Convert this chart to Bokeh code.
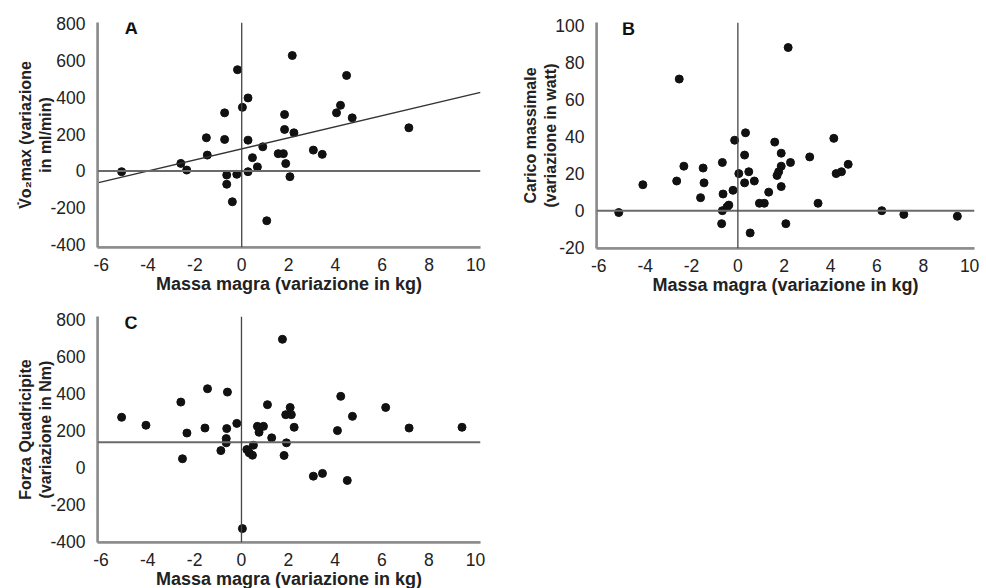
from bokeh.plotting import figure
from bokeh.layouts import column, row
from bokeh.models import Span, Label, FixedTicker, Range1d
from bokeh.embed import file_html
from bokeh.resources import INLINE

# ---------------- data ----------------
x_ticks = [-6, -4, -2, 0, 2, 4, 6, 8, 10]

# Panel A: VO2max change vs lean-mass change
a_x = [-5.13, -2.60, -2.35, -1.51, -1.47, -0.73, -0.73, -0.64, -0.64, -0.40,
       -0.21, -0.18, 0.03, 0.27, 0.27, 0.27, 0.46, 0.67, 0.90, 1.07,
       1.56, 1.78, 1.83, 1.83, 1.88, 2.06, 2.16, 2.23, 3.06, 3.44,
       4.05, 4.22, 4.48, 4.72, 7.14]
a_y = [-4, 41, 5, 180, 86, 315, 171, -22, -72, -167,
       -18, 549, 345, 396, 167, -4, 72, 22, 131, -270,
       94, 94, 225, 306, 40, -31, 626, 207, 113, 90,
       315, 356, 518, 288, 234]
a_fit_intercept = 120
a_fit_slope = 30
a_hline = 0
a_yticks = [-400, -200, 0, 200, 400, 600, 800]

# Panel B: max load change vs lean-mass change
b_x = [-5.14, -4.10, -2.64, -2.53, -2.33, -1.61, -1.50, -1.46, -0.67, -0.64,
       -0.67, -0.70, -0.47, -0.39, -0.21, -0.14, 0.04, 0.29, 0.29, 0.33,
       0.47, 0.53, 0.71, 0.93, 1.14, 1.33, 1.59, 1.69, 1.76, 1.87,
       1.87, 1.87, 2.07, 2.17, 2.27, 3.10, 3.46, 4.14, 4.24, 4.47,
       4.76, 6.21, 7.16, 9.47]
b_y = [-1, 14, 16, 71, 24, 7, 23, 15, 26, 9,
       0, -7, 2, 3, 11, 38, 20, 15, 30, 42,
       21, -12, 16, 4, 4, 10, 37, 19, 21, 31,
       24, 13, -7, 88, 26, 29, 4, 39, 20, 21,
       25, 0, -2, -3]
b_hline = 0
b_yticks = [-20, 0, 20, 40, 60, 80, 100]

# Panel C: quadriceps strength change vs lean-mass change
c_x = [-5.12, -4.08, -2.59, -2.52, -2.33, -1.56, -1.45, -0.88, -0.65, -0.65,
       -0.63, -0.60, -0.20, 0.04, 0.23, 0.33, 0.47, 0.51, 0.68, 0.75,
       0.94, 1.11, 1.29, 1.75, 1.82, 1.92, 1.89, 2.08, 2.13, 2.25,
       3.07, 3.46, 4.10, 4.24, 4.52, 4.74, 6.16, 7.16, 9.42]
c_y = [271, 228, 353, 47, 186, 213, 425, 91, 133, 156,
       210, 407, 238, -330, 97, 79, 66, 120, 222, 190,
       222, 339, 160, 692, 65, 133, 285, 324, 285, 217,
       -47, -32, 199, 384, -70, 276, 324, 213, 217]
c_hline = 136
c_yticks = [-400, -200, 0, 200, 400, 600, 800]

x_label = "Massa magra (variazione in kg)"
FONT = "Liberation Sans"
AXIS_GREY = "#8c8c8c"


def overrides(ticks):
    return {t: str(t) for t in ticks}


def make_panel(xs, ys, yticks, y_range, x_range, ylabel, letter, letter_y,
               hline, fw, fh, borders):
    p = figure(frame_width=fw, frame_height=fh, output_backend="svg",
               toolbar_location=None,
               x_range=Range1d(*x_range), y_range=Range1d(*y_range))
    p.min_border_left, p.min_border_right, p.min_border_top, p.min_border_bottom = borders
    p.outline_line_color = None
    p.xgrid.visible = False
    p.ygrid.visible = False
    p.background_fill_color = "white"
    p.border_fill_color = "white"

    for ax in (p.xaxis[0], p.yaxis[0]):
        ax.axis_line_color = AXIS_GREY
        ax.axis_line_width = 2.5
        ax.major_tick_line_color = None
        ax.minor_tick_line_color = None
        ax.major_label_text_font = FONT
        ax.major_label_text_font_size = "17.5px"
        ax.major_label_text_color = "#222222"
        ax.axis_label_text_font = FONT
        ax.axis_label_text_font_style = "bold"
        ax.axis_label_text_color = "#222222"
    p.xaxis.axis_label_text_font_size = "18px"
    p.yaxis.axis_label_text_font_size = "16px"

    p.xaxis.ticker = FixedTicker(ticks=x_ticks)
    p.yaxis.ticker = FixedTicker(ticks=yticks)
    p.xaxis.major_label_overrides = overrides(x_ticks)
    p.yaxis.major_label_overrides = overrides(yticks)
    p.xaxis.major_label_standoff = 4
    p.yaxis.major_label_standoff = 6
    p.xaxis.axis_label_standoff = 0
    p.yaxis.axis_label_standoff = -7
    p.xaxis.axis_label = x_label
    p.yaxis.axis_label = ylabel

    # frame axis lines (left and bottom)
    p.add_layout(Span(location=y_range[0], dimension="width",
                      line_color=AXIS_GREY, line_width=2.5))
    p.add_layout(Span(location=x_range[0], dimension="height",
                      line_color=AXIS_GREY, line_width=2.5))

    # reference lines
    p.add_layout(Span(location=hline, dimension="width",
                      line_color="#6a6a6a", line_width=2))
    p.add_layout(Span(location=0, dimension="height",
                      line_color="#444444", line_width=1.3))

    p.scatter(xs, ys, size=8, color="#111111")

    p.add_layout(Label(x=-5.0, y=letter_y, text=letter,
                       text_font=FONT, text_font_style="bold",
                       text_font_size="18px", text_color="#111111",
                       text_baseline="middle", text_align="left"))
    return p


pA = make_panel(a_x, a_y, a_yticks, (-415, 805), (-6.16, 10.2),
                "V\u0307o\u2082max (variazione\nin ml/min)", "A", 773,
                a_hline, 383, 225, (97, 10, 22, 48))
fit_x = [-6.16, 10.2]
fit_y = [a_fit_intercept + a_fit_slope * v for v in fit_x]
pA.line(fit_x, fit_y, line_color="#333333", line_width=1.4)

pB = make_panel(b_x, b_y, b_yticks, (-20.4, 101.5), (-6.1, 10.21),
                "Carico massimale\n(variazione in watt)", "B", 98,
                b_hline, 378, 226, (106, 10, 20, 49))

pC = make_panel(c_x, c_y, c_yticks, (-405, 815), (-6.15, 10.21),
                "Forza Quadricipite\n(variazione in Nm)", "C", 778,
                c_hline, 383, 226, (97, 10, 20, 46))

layout = column(row(pA, pB), pC)

with open("out.html", "w") as f:
    f.write(file_html(layout, INLINE))
